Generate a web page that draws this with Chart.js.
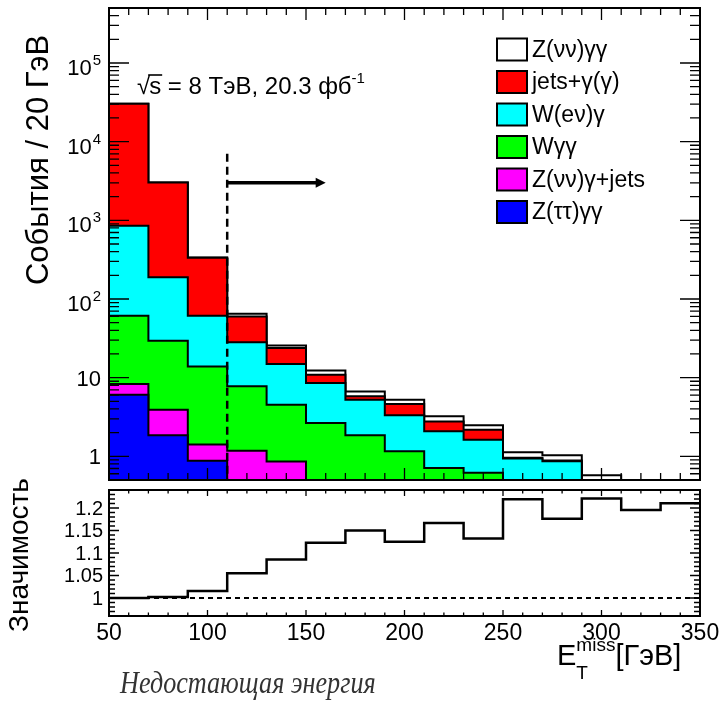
<!DOCTYPE html>
<html>
<head>
<meta charset="utf-8">
<script src="https://cdn.jsdelivr.net/npm/chart.js@4.4.0/dist/chart.umd.min.js"></script>
<style>
  html, body { margin: 0; padding: 0; background: #ffffff; }
  #wrap { position: relative; width: 721px; height: 702px; }
  #wrap canvas { position: absolute; left: 0; top: 0; }
</style>
</head>
<body>
<div id="wrap">
  <canvas id="mainPad" width="721" height="702"></canvas>
  <canvas id="ratioPad" width="721" height="702"></canvas>
</div>
<script>
// ---- binning: E_T^miss, 20 GeV bins ----
const binEdges = [50, 70, 90, 110, 130, 150, 170, 190, 210, 230, 250, 270, 290, 310, 330, 350];

// ---- expected events per bin, one array per process ----
const zTauTauGG  = [6.08, 1.85, 0.88, 0.30, 0.20, 0.10, 0.05, 0.03, 0.02, 0.01, 0.01, 0.005, 0.004, 0.003, 0.002];
const zNuNuGJets = [2.22, 2.07, 0.53, 0.88, 0.66, 0.25, 0.15, 0.10, 0.05, 0.04, 0.03, 0.02, 0.01, 0.01, 0.005];
const wGG        = [53.1, 25.6, 12.4, 6.57, 3.68, 2.31, 1.65, 1.03, 0.64, 0.57, 0.30, 0.20, 0.10, 0.05, 0.03];
const wENuG      = [794, 160, 47.6, 20.35, 10.36, 5.91, 3.40, 2.16, 1.37, 1.01, 0.60, 0.64, 0.30, 0.20, 0.15];
const jetsGG     = [29450, 2837, 273.6, 31.9, 8.9, 2.33, 0.54, 1.31, 0.70, 0.55, 0.02, 0.02, 0.01, 0.005, 0.005];
const zNuNuGG    = [5, 3, 2, 5, 1.9, 1.4, 0.9, 0.62, 0.44, 0.30, 0.165, 0.144, 0.15, 0.08, 0.06];

// ---- significance per bin (lower pad) ----
const significance = [1.000, 1.002, 1.0156, 1.055, 1.0855, 1.123, 1.150, 1.125, 1.1667, 1.1324, 1.2194, 1.1763, 1.221, 1.1958, 1.2105];
const referenceLevel = 1;

// ---- process names and fill colours (stack order: bottom first) ----
const processNames  = ['Z(ττ)γγ', 'Z(νν)γ+jets', 'Wγγ', 'W(eν)γ', 'jets+γ(γ)', 'Z(νν)γγ'];
const processColors = ['#0000ff', '#ff00ff', '#00ff00', '#00ffff', '#ff0000', '#ffffff'];
const processValues = [zTauTauGG, zNuNuGJets, wGG, wENuG, jetsGG, zNuNuGG];
const legendOrder = [5, 4, 3, 2, 1, 0];

// ---- selection cut ----
const cutValue = 110;
const cutLineTop = 7000;
const arrowEnd = 160;
const arrowLevel = 3000;

// ---- axis ticks and labels ----
const xTickLabels = ['50', '100', '150', '200', '250', '300', '350'];
const xTickValues = [50, 100, 150, 200, 250, 300, 350];
const yLogTickValues = [1, 10, 100, 1000, 10000, 100000];
const yLogTickLabels = ['1', '10', '10^2', '10^3', '10^4', '10^5'];
const ratioTickValues = [1, 1.05, 1.1, 1.15, 1.2];
const ratioTickLabels = ['1', '1.05', '1.1', '1.15', '1.2'];

const yTitle = 'События / 20 ГэВ';
const ratioTitle = 'Значимость';
const energyCaption = 'Недостающая энергия';
const lumiText = ' = 8 ТэВ, 20.3 фб';

const SANS = '"Liberation Sans", Arial, Helvetica, sans-serif';

// cumulative stack heights, drawn as filled step outlines
function stepPoints(values) {
  return binEdges.map((e, i) => ({ x: e, y: values[Math.min(i, values.length - 1)] }));
}
const cumulative = [];
processValues.forEach((vals, k) => {
  cumulative.push(vals.map((v, i) => v + (k > 0 ? cumulative[k - 1][i] : 0)));
});
// top of the stack is drawn first so lower components paint over it
const stackDatasets = processNames.map((name, k) => ({
  label: name,
  data: stepPoints(cumulative[k]),
  stepped: 'before',
  fill: 'origin',
  backgroundColor: processColors[k],
  borderColor: '#000000',
  borderWidth: 2,
  pointRadius: 0,
  order: k
}));

// ---------- drawing helpers ----------
function drawTicks(ctx, area, xs, ys, opt) {
  ctx.save();
  ctx.strokeStyle = '#000';
  ctx.lineWidth = 1.3;
  ctx.beginPath();
  xs.forEach(t => {
    const L = t.major ? opt.xMajor : opt.xMinor;
    ctx.moveTo(t.px, area.bottom); ctx.lineTo(t.px, area.bottom - L);
    ctx.moveTo(t.px, area.top); ctx.lineTo(t.px, area.top + L);
  });
  ys.forEach(t => {
    const L = t.major ? opt.yMajor : opt.yMinor;
    ctx.moveTo(area.left, t.py); ctx.lineTo(area.left + L, t.py);
    ctx.moveTo(area.right, t.py); ctx.lineTo(area.right - L, t.py);
  });
  ctx.stroke();
  ctx.lineWidth = 2;
  ctx.strokeRect(area.left, area.top, area.right - area.left, area.bottom - area.top);
  ctx.restore();
}

function xTickList(scale) {
  const out = [];
  for (let v = binEdges[0]; v <= binEdges[binEdges.length - 1]; v += 10) {
    out.push({ px: scale.getPixelForValue(v), major: v % 50 === 0 });
  }
  return out;
}

function drawRotated(ctx, text, x, y, font) {
  ctx.save();
  ctx.translate(x, y);
  ctx.rotate(-Math.PI / 2);
  ctx.font = font;
  ctx.fillStyle = '#000';
  ctx.textAlign = 'center';
  ctx.textBaseline = 'middle';
  ctx.fillText(text, 0, 0);
  ctx.restore();
}

// ---------- upper pad decorations ----------
const mainDecor = {
  id: 'mainDecor',
  afterDatasetsDraw(chart) {
    const { ctx, chartArea: a, scales: { x, y } } = chart;
    const px = x.getPixelForValue(cutValue);
    ctx.save();
    ctx.beginPath();
    ctx.rect(a.left, a.top, a.right - a.left, a.bottom - a.top);
    ctx.clip();
    // cut line
    ctx.strokeStyle = '#000';
    ctx.lineWidth = 2.5;
    ctx.setLineDash([8, 5]);
    ctx.beginPath();
    ctx.moveTo(px, y.getPixelForValue(cutLineTop));
    ctx.lineTo(px, a.bottom);
    ctx.stroke();
    ctx.setLineDash([]);
    // arrow
    const ay = y.getPixelForValue(arrowLevel);
    const ax = x.getPixelForValue(arrowEnd);
    ctx.lineWidth = 3.5;
    ctx.beginPath();
    ctx.moveTo(px, ay);
    ctx.lineTo(ax - 6, ay);
    ctx.stroke();
    ctx.fillStyle = '#000';
    ctx.beginPath();
    ctx.moveTo(ax, ay);
    ctx.lineTo(ax - 10, ay - 5);
    ctx.lineTo(ax - 10, ay + 5);
    ctx.closePath();
    ctx.fill();
    ctx.restore();
  },
  afterDraw(chart) {
    const { ctx, chartArea: a, scales: { x, y } } = chart;
    // ticks
    const ys = [];
    for (let d = -1; d <= 5; d++) {
      for (let m = 1; m <= 9; m++) {
        const v = m * Math.pow(10, d);
        if (v < y.min - 1e-9 || v > y.max * 1.0001) continue;
        ys.push({ py: y.getPixelForValue(v), major: m === 1 });
      }
    }
    drawTicks(ctx, a, xTickList(x), ys, { xMajor: 12, xMinor: 7, yMajor: 20, yMinor: 10 });

    // y tick labels with exponents
    ctx.save();
    ctx.fillStyle = '#000';
    ctx.textBaseline = 'alphabetic';
    yLogTickValues.forEach((v, i) => {
      const py = y.getPixelForValue(v);
      const [base, exp] = yLogTickLabels[i].split('^');
      const right = a.left - 8;
      if (exp) {
        ctx.font = '15px ' + SANS;
        const ew = ctx.measureText(exp).width;
        ctx.textAlign = 'left';
        ctx.fillText(exp, right - ew, py + 2);
        ctx.font = '22px ' + SANS;
        ctx.textAlign = 'right';
        ctx.fillText(base, right - ew - 1, py + 12);
      } else {
        ctx.font = '22px ' + SANS;
        ctx.textAlign = 'right';
        ctx.fillText(base, right, py + 8);
      }
    });
    ctx.restore();

    // y title
    drawRotated(ctx, yTitle, 39, 160, '31px ' + SANS);

    // energy / luminosity label
    ctx.save();
    ctx.fillStyle = '#000';
    ctx.font = '24px ' + SANS;
    ctx.textAlign = 'left';
    ctx.textBaseline = 'alphabetic';
    let tx = 137, ty = 94;
    ctx.fillText('√', tx, ty);
    tx += ctx.measureText('√').width - 1;
    const sw = ctx.measureText('s').width;
    ctx.fillText('s', tx, ty);
    ctx.lineWidth = 1.6;
    ctx.strokeStyle = '#000';
    ctx.beginPath();
    ctx.moveTo(tx - 1, ty - 19);
    ctx.lineTo(tx + sw + 1, ty - 19);
    ctx.stroke();
    tx += sw;
    ctx.fillText(lumiText, tx, ty);
    tx += ctx.measureText(lumiText).width;
    ctx.font = '15px ' + SANS;
    ctx.fillText('-1', tx, ty - 11);
    ctx.restore();

    // legend
    ctx.save();
    const lx = 497, ly0 = 49.5, step = 32.5, bw = 30, bh = 22;
    legendOrder.forEach((k, row) => {
      const cy = ly0 + row * step;
      ctx.fillStyle = processColors[k];
      ctx.fillRect(lx, cy - bh / 2, bw, bh);
      ctx.lineWidth = 2;
      ctx.strokeStyle = '#000';
      ctx.strokeRect(lx, cy - bh / 2, bw, bh);
      ctx.fillStyle = '#000';
      ctx.font = '23px ' + SANS;
      ctx.textAlign = 'left';
      ctx.textBaseline = 'middle';
      ctx.fillText(processNames[k], lx + bw + 5, cy + 1);
    });
    ctx.restore();
  }
};

// ---------- lower pad decorations ----------
const ratioDecor = {
  id: 'ratioDecor',
  afterDraw(chart) {
    const { ctx, chartArea: a, scales: { x, y } } = chart;
    const ys = [];
    for (let i = 96; i <= 124; i++) {
      const v = i / 100;
      ys.push({ py: y.getPixelForValue(v), major: i % 5 === 0 });
    }
    drawTicks(ctx, a, xTickList(x), ys, { xMajor: 6, xMinor: 3.5, yMajor: 10, yMinor: 6 });

    ctx.save();
    ctx.fillStyle = '#000';
    ctx.font = '20px ' + SANS;
    ctx.textAlign = 'right';
    ctx.textBaseline = 'middle';
    ratioTickValues.forEach((v, i) => {
      ctx.fillText(ratioTickLabels[i], a.left - 6, y.getPixelForValue(v) + 1);
    });
    ctx.font = '23px ' + SANS;
    ctx.textAlign = 'center';
    ctx.textBaseline = 'alphabetic';
    xTickValues.forEach((v, i) => {
      ctx.fillText(xTickLabels[i], x.getPixelForValue(v), 640);
    });

    // axis title E_T^miss [ГэВ]
    ctx.textAlign = 'left';
    let tx = 557;
    const base = 665;
    ctx.font = '29px ' + SANS;
    ctx.fillText('E', tx, base);
    tx += ctx.measureText('E').width;
    ctx.font = '19px ' + SANS;
    const supW = ctx.measureText('miss').width;
    ctx.fillText('miss', tx, base - 14);
    ctx.fillText('T', tx, base + 14);
    tx += supW;
    ctx.font = '29px ' + SANS;
    ctx.fillText('[ГэВ]', tx, base);

    // caption, slightly condensed serif italic
    ctx.save();
    ctx.fillStyle = '#333333';
    ctx.font = 'italic 31px "Liberation Serif", "DejaVu Serif", serif';
    ctx.translate(120, 693);
    ctx.scale(0.845, 1);
    ctx.fillText(energyCaption, 0, 0);
    ctx.restore();
    ctx.restore();

    drawRotated(ctx, ratioTitle, 20, 555, '28px ' + SANS);
  }
};

const commonX = { type: 'linear', min: binEdges[0], max: binEdges[binEdges.length - 1], display: false };

new Chart(document.getElementById('mainPad'), {
  type: 'line',
  data: { datasets: stackDatasets },
  options: {
    responsive: false,
    animation: false,
    devicePixelRatio: 1,
    layout: { padding: { left: 109, right: 21, top: 8, bottom: 222 } },
    scales: {
      x: commonX,
      y: { type: 'logarithmic', min: 0.5, max: 5e5, display: false }
    },
    plugins: { legend: { display: false }, tooltip: { enabled: false } }
  },
  plugins: [mainDecor]
});

new Chart(document.getElementById('ratioPad'), {
  type: 'line',
  data: {
    datasets: [
      {
        label: 'significance',
        data: stepPoints(significance),
        stepped: 'before',
        fill: false,
        borderColor: '#000000',
        borderWidth: 2.5,
        pointRadius: 0
      },
      {
        label: 'reference',
        data: [{ x: binEdges[0], y: referenceLevel }, { x: binEdges[binEdges.length - 1], y: referenceLevel }],
        fill: false,
        borderColor: '#000000',
        borderWidth: 2,
        borderDash: [5, 4],
        pointRadius: 0
      }
    ]
  },
  options: {
    responsive: false,
    animation: false,
    devicePixelRatio: 1,
    layout: { padding: { left: 109, right: 21, top: 490, bottom: 86 } },
    scales: {
      x: commonX,
      y: { type: 'linear', min: 0.96, max: 1.24, display: false }
    },
    plugins: { legend: { display: false }, tooltip: { enabled: false } }
  },
  plugins: [ratioDecor]
});
</script>
</body>
</html>
